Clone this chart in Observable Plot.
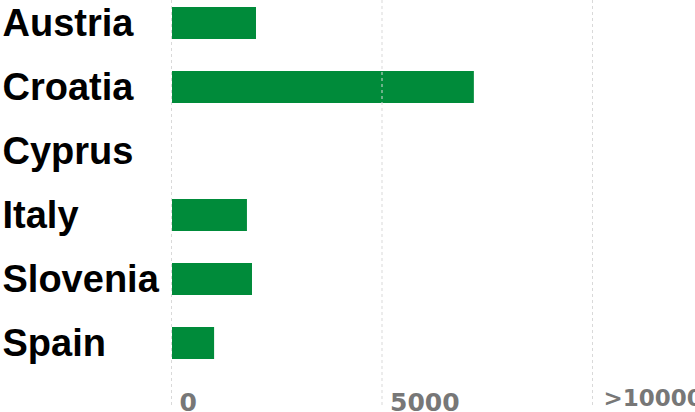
<!DOCTYPE html>
<html>
<head>
<meta charset="utf-8">
<script src="https://cdn.jsdelivr.net/npm/d3@7"></script>
<script src="https://cdn.jsdelivr.net/npm/@observablehq/plot@0.6"></script>
<style>
  html, body { margin: 0; padding: 0; background: #fff; }
  #chart svg { display: block; }
</style>
</head>
<body>
<div id="chart"></div>
<script>
const countries = ["Austria", "Croatia", "Cyprus", "Italy", "Slovenia", "Spain"];
const values = [1995, 7170, 0, 1780, 1900, 1000];
const tickValues = [0, 5000];
const tickLabels = ["0", "5000"];
const capValue = 10000;
const capLabel = ">10000";

const data = countries.map((c, i) => ({country: c, value: values[i]}));
const ticks = tickValues.map((v, i) => ({v, label: tickLabels[i]}));

const chart = Plot.plot({
  width: 695,
  height: 412,
  marginLeft: 172,
  marginRight: 102,
  marginTop: 0,
  marginBottom: 46,
  style: {background: "#fff", overflow: "visible"},
  x: {domain: [0, capValue], axis: null},
  y: {domain: countries, axis: null, paddingInner: 0.5, paddingOuter: 0.1},
  marks: [
    Plot.barX(data, {y: "country", x: "value", fill: "#008b3a"}),
    Plot.ruleX([...tickValues, capValue], {
      stroke: "#d9d9d9", strokeWidth: 1, strokeDasharray: "3,3",
      insetBottom: -40, dx: -1
    }),
    Plot.text(countries, {
      y: d => d, frameAnchor: "left", textAnchor: "start", dx: -170,
      fontSize: 38, fontWeight: "bold", fill: "#000",
      fontFamily: "Liberation Sans, Arial, sans-serif"
    }),
    Plot.text(ticks, {
      x: "v", text: "label", frameAnchor: "bottom", textAnchor: "start",
      lineAnchor: "bottom", dx: 7, dy: 44,
      fontSize: 25, fontWeight: "bold", fill: "#777",
      fontFamily: "DejaVu Sans, sans-serif"
    }),
    Plot.text([capValue], {
      x: d => d, text: () => capLabel, frameAnchor: "bottom", textAnchor: "start",
      lineAnchor: "bottom", dx: 10, dy: 39,
      fontSize: 23, fontWeight: "bold", fill: "#777",
      fontFamily: "DejaVu Sans, sans-serif"
    })
  ]
});
document.getElementById("chart").appendChild(chart);
</script>
</body>
</html>
